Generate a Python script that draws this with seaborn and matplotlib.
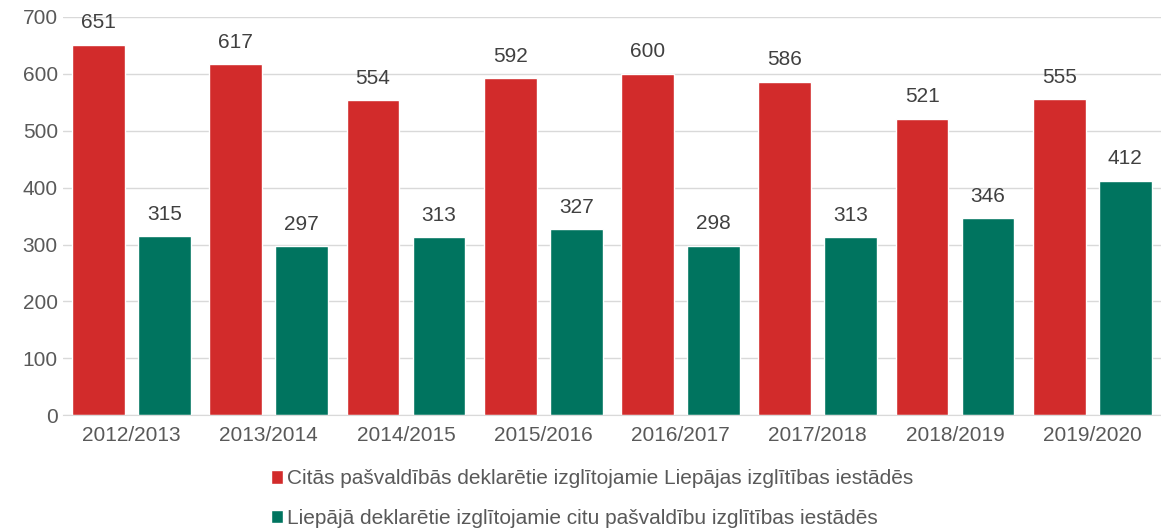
import pandas as pd
import matplotlib.pyplot as plt
import seaborn as sns

years = ['2012/2013', '2013/2014', '2014/2015', '2015/2016',
         '2016/2017', '2017/2018', '2018/2019', '2019/2020']
citas = [651, 617, 554, 592, 600, 586, 521, 555]
liepaja = [315, 297, 313, 327, 298, 313, 346, 412]
series_names = ['Citās pašvaldībās deklarētie izglītojamie Liepājas izglītības iestādēs',
                'Liepājā deklarētie izglītojamie citu pašvaldību izglītības iestādēs']
colors = ['#D22B2B', '#00745F']

df = pd.DataFrame({
    'gads': years * 2,
    'skaits': citas + liepaja,
    'grupa': [series_names[0]] * len(years) + [series_names[1]] * len(years),
})

sns.set_style('white')
plt.rcParams['font.family'] = ['Liberation Sans', 'DejaVu Sans']
txt = '#595959'
fs = 15

fig = plt.figure(figsize=(11.61, 5.31), dpi=100)
ax = fig.add_axes([0.054, 0.218, 0.946, 0.75])

sns.barplot(data=df, x='gads', y='skaits', hue='grupa', palette=colors,
            width=0.96, gap=0.2, ax=ax, saturation=1, legend=True)

for cont in ax.containers:
    ax.bar_label(cont, padding=9, fontsize=fs, color='#404040')

ax.set_ylim(0, 700)
ax.set_xlim(-0.5, 7.5)
ax.set_yticks(range(0, 701, 100))
ax.yaxis.grid(True, color='#D9D9D9', linewidth=1)
ax.set_axisbelow(True)
for s in ['left', 'right', 'top']:
    ax.spines[s].set_visible(False)
ax.spines['bottom'].set_color('#D9D9D9')
ax.tick_params(axis='both', length=0, labelsize=fs, colors=txt)
ax.tick_params(axis='x', pad=8)
ax.set_xlabel('')
ax.set_ylabel('')

handles, labels = ax.get_legend_handles_labels()
ax.get_legend().remove()
fig.legend(handles, labels, loc='upper left', bbox_to_anchor=(0.226, 0.132),
           frameon=False, ncol=1, fontsize=fs, labelcolor=txt,
           handlelength=0.6, handleheight=0.6, handletextpad=0.2,
           labelspacing=1.0, borderaxespad=0)

fig.savefig('out.png', dpi=100)
